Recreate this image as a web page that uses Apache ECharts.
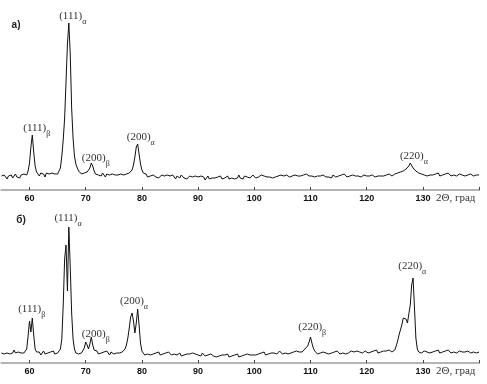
<!DOCTYPE html>
<html>
<head>
<meta charset="utf-8">
<script src="https://cdn.jsdelivr.net/npm/echarts@6/dist/echarts.min.js"></script>
<style>html,body{margin:0;padding:0;background:#fff}#c{width:487px;height:384px}</style>
</head>
<body>
<div id="c"></div>
<script>
// Scan: 2Θ from 55 to 140 degrees, 0.25 degree per reading
var scanStart = 55;
var scanStep = 0.25;

// Panel а) intensities (arbitrary units), rows of 5 degrees
var intensityA = [
  14,12,15,13,11,14,13,15,12,14,16,13,14,12,15,14,16,14,15,19,
  27,43,55,38,24,18,16,14,17,15,16,13,17,15,16,14,17,15,16,18,
  16,18,22,34,50,72,108,146,167,136,82,52,34,26,22,19,18,16,18,17,
  16,18,19,22,27,24,19,16,17,15,16,14,17,15,13,16,14,15,13,16,
  14,15,13,15,14,16,14,15,14,16,15,17,18,20,25,33,43,46,36,26,
  20,17,15,16,13,15,14,12,15,14,13,15,12,14,15,13,14,12,15,13,
  14,12,15,13,11,14,13,12,15,13,12,14,11,13,14,12,13,11,14,12,
  13,11,14,12,13,10,12,14,11,13,12,14,12,11,13,12,14,11,13,12,
  12,14,11,13,12,14,11,13,12,15,12,13,11,14,12,13,14,12,13,15,
  13,12,14,13,12,15,13,14,12,13,15,13,14,12,14,13,15,14,13,15,
  16,14,13,15,14,13,15,14,12,15,13,14,16,14,13,15,14,16,15,14,
  16,14,15,13,15,14,12,14,13,15,14,13,15,13,14,12,15,14,13,15,
  14,13,15,14,16,14,13,15,14,16,15,13,14,16,14,15,13,14,15,13,
  14,12,14,13,15,14,13,15,14,16,14,15,14,16,15,14,16,15,14,16,
  16,15,17,16,18,17,19,20,21,23,24,27,25,22,21,19,18,17,18,16,
  17,15,16,14,16,15,17,15,14,16,15,17,14,16,15,14,16,15,17,15,
  14,16,15,17,14,15,16,14,15,17,14,16,15,14,16,15,14,16,15,14,
  15
];

// Panel б) intensities
var intensityB = [
  10,12,9,11,10,12,9,11,10,13,10,9,11,12,10,11,10,11,14,27,
  42,31,45,28,14,11,9,11,8,10,12,9,11,10,8,11,10,12,9,11,
  10,12,14,24,58,104,118,72,136,96,50,24,14,10,12,9,11,10,12,15,
  21,18,14,19,26,18,13,11,12,9,11,10,8,11,9,12,10,8,11,10,
  9,11,10,12,10,9,11,12,14,18,25,35,46,50,42,30,40,54,38,20,
  12,10,8,10,9,11,8,10,9,7,10,9,11,8,10,9,8,10,9,11,
  9,8,10,9,11,8,9,10,7,9,8,10,9,7,9,8,10,8,9,7,
  8,9,7,10,8,7,9,8,6,9,8,7,9,6,8,7,9,8,6,8,
  7,9,6,8,7,5,8,7,9,6,8,7,9,8,6,9,7,8,10,8,
  9,8,10,9,7,10,9,11,8,10,9,11,10,8,10,11,9,10,12,10,
  9,11,10,12,9,11,10,12,11,9,12,10,11,12,11,13,14,15,17,21,
  26,20,15,12,10,9,11,10,8,11,9,10,12,9,11,10,9,11,10,12,
  10,9,11,10,12,9,11,10,9,12,10,11,9,12,10,11,13,10,11,12,
  11,10,12,11,9,12,11,13,10,12,11,13,12,10,12,11,13,12,11,12,
  13,17,22,28,33,38,45,47,44,40,42,58,78,85,55,25,14,11,12,10,
  11,12,10,11,13,10,12,11,10,12,11,13,10,12,11,10,12,11,13,11,
  10,12,11,13,10,11,12,10,11,13,11,10,12,11,10,12,11,12,10,11,
  11
];

var axisMin = 55, axisMax = 140;
var tickValues = [60, 70, 80, 90, 100, 110, 120, 130, 140];
var labelValues = [60, 70, 80, 90, 100, 110, 120, 130];
var axisTitle = '2\u0398, \u0433\u0440\u0430\u0434';

// Peak annotations: [hkl, phase, 2Θ position, intensity position]
var peaksA = [
  ['(111)', '\u03b1', 67.7, 175],
  ['(111)', '\u03b2', 61.3, 63],
  ['(200)', '\u03b2', 71.8, 33],
  ['(200)', '\u03b1', 79.8, 54],
  ['(220)', '\u03b1', 128.4, 35]
];
var peaksB = [
  ['(111)', '\u03b1', 66.85, 146],
  ['(111)', '\u03b2', 60.4, 55],
  ['(200)', '\u03b2', 71.8, 30],
  ['(200)', '\u03b1', 78.6, 63],
  ['(220)', '\u03b2', 110.3, 37],
  ['(220)', '\u03b1', 128.1, 98]
];
var panelTagA = ['\u0430)', 57.6, 165];
var panelTagB = ['\u0431)', 58.5, 143];

function toPairs(arr) {
  return arr.map(function (v, i) { return [scanStart + i * scanStep, v]; });
}

function marks(peaks, tag) {
  var d = peaks.map(function (p) {
    return {
      coord: [p[2], p[3]],
      label: { formatter: '{m|' + p[0] + '}{s|' + p[1] + '}' }
    };
  });
  d.push({ coord: [tag[1], tag[2]], label: { formatter: '{t|' + tag[0] + '}' } });
  return {
    symbol: 'rect', symbolSize: 1, silent: true,
    itemStyle: { color: 'rgba(0,0,0,0)' },
    label: {
      show: true, position: 'inside', color: '#333',
      rich: {
        m: { fontFamily: 'Liberation Serif', fontSize: 11, color: '#333', verticalAlign: 'bottom', lineHeight: 14 },
        s: { fontFamily: 'Liberation Serif', fontSize: 8, color: '#333', verticalAlign: 'bottom', lineHeight: 14, padding: [0, 0, -4, 0] },
        t: { fontFamily: 'Liberation Sans', fontSize: 10, fontWeight: 'bold', color: '#222' }
      }
    },
    data: d
  };
}

function xAx(gi) {
  return {
    type: 'value', gridIndex: gi, min: axisMin, max: axisMax,
    axisLine: { show: true, lineStyle: { color: '#b4b4b4', width: 2 } },
    axisTick: { show: true, inside: true, length: 3, customValues: tickValues, lineStyle: { color: '#444', width: 1 } },
    axisLabel: { show: true, customValues: labelValues, margin: 4, color: '#111', fontFamily: 'Liberation Sans', fontWeight: 'bold', fontSize: 9 },
    splitLine: { show: false }
  };
}
function yAx(gi) {
  return {
    type: 'value', gridIndex: gi, min: 0, max: 180,
    show: false, splitLine: { show: false }
  };
}

var chart = echarts.init(document.getElementById('c'), null, { renderer: 'canvas' });
chart.setOption({
  animation: false,
  backgroundColor: '#fff',
  grid: [
    { left: 1.4, width: 477.7, top: 10, height: 180 },
    { left: 1.4, width: 477.7, top: 183, height: 180 }
  ],
  xAxis: [xAx(0), xAx(1)],
  yAxis: [yAx(0), yAx(1)],
  graphic: [
    { type: 'text', left: 436, top: 193, style: { text: axisTitle, font: '11px "Liberation Serif"', fill: '#333' } },
    { type: 'text', left: 436, top: 366, style: { text: axisTitle, font: '11px "Liberation Serif"', fill: '#333' } }
  ],
  series: [
    {
      type: 'line', xAxisIndex: 0, yAxisIndex: 0, data: toPairs(intensityA),
      showSymbol: false, lineStyle: { color: '#111', width: 1 }, clip: false,
      markPoint: marks(peaksA, panelTagA)
    },
    {
      type: 'line', xAxisIndex: 1, yAxisIndex: 1, data: toPairs(intensityB),
      showSymbol: false, lineStyle: { color: '#111', width: 1 }, clip: false,
      markPoint: marks(peaksB, panelTagB)
    }
  ]
});
</script>
</body>
</html>
